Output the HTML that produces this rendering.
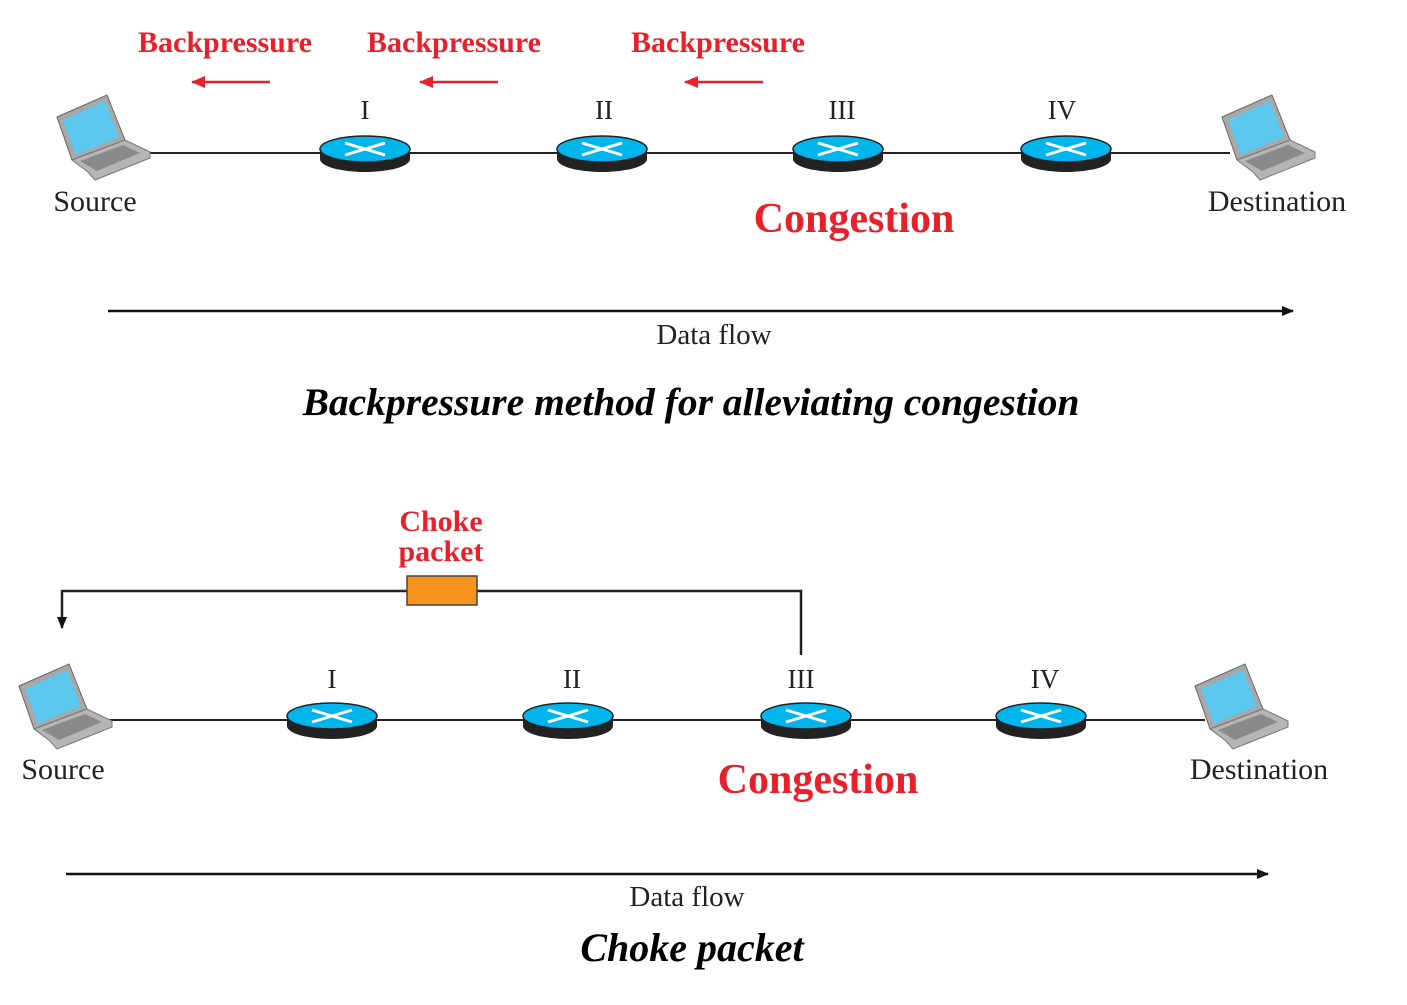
<!DOCTYPE html>
<html><head><style>body{margin:0;background:#fff}</style></head><body>
<svg width="1407" height="1000" xmlns="http://www.w3.org/2000/svg" font-family="Liberation Serif, serif">
<defs>
<g id="lap">
<polygon points="2,24 52,2 70,47 17,67" fill="#a8a8a8" stroke="#666"/>
<polygon points="8,27 50,8 64,44 21,62" fill="#5cc8f0"/>
<polygon points="17,67 70,47 95,59 95,65 40,87 33,79" fill="#b5b5b5" stroke="#777"/>
<polygon points="25,68 68,52 85,60 42,78" fill="#8a8a8a"/>
</g>
<g id="rt">
<ellipse cx="0" cy="6" rx="45" ry="13" fill="#222"/>
<rect x="-45" y="-4" width="90" height="10" fill="#222"/>
<ellipse cx="0" cy="-4" rx="45" ry="13" fill="#00b4ec" stroke="#222" stroke-width="1.5"/>
<path d="M-20,-10 L20,2 M-20,2 L20,-10" stroke="#fff" stroke-width="3"/>
</g>
<marker id="ab" markerWidth="12" markerHeight="10" refX="11" refY="5" orient="auto" markerUnits="userSpaceOnUse"><path d="M0,0 L12,5 L0,10 z" fill="#111"/></marker>
<marker id="ar" markerWidth="14" markerHeight="12" refX="13" refY="6" orient="auto" markerUnits="userSpaceOnUse"><path d="M0,0 L14,6 L0,12 z" fill="#e8202a"/></marker>
</defs>
<!-- top -->
<line x1="140" y1="153" x2="1230" y2="153" stroke="#222" stroke-width="2"/>
<use href="#lap" x="55" y="93"/>
<use href="#lap" x="1220" y="93"/>
<use href="#rt" x="365" y="153"/><use href="#rt" x="602" y="153"/><use href="#rt" x="838" y="153"/><use href="#rt" x="1066" y="153"/>
<g font-size="27" text-anchor="middle" fill="#222">
<text x="365" y="119">I</text><text x="604" y="119">II</text><text x="842" y="119">III</text><text x="1062" y="119">IV</text>
<text x="95" y="211" font-size="30">Source</text><text x="1277" y="211" font-size="30">Destination</text>
<text x="714" y="344" font-size="29">Data flow</text>
</g>
<g font-size="30" font-weight="bold" fill="#e8202a" text-anchor="middle">
<text x="225" y="52">Backpressure</text><text x="454" y="52">Backpressure</text><text x="718" y="52">Backpressure</text>
<text x="854" y="232" font-size="42">Congestion</text>
</g>
<g stroke="#e8202a" stroke-width="2.5">
<line x1="270" y1="82" x2="192" y2="82" marker-end="url(#ar)"/>
<line x1="498" y1="82" x2="420" y2="82" marker-end="url(#ar)"/>
<line x1="763" y1="82" x2="685" y2="82" marker-end="url(#ar)"/>
</g>
<line x1="108" y1="311" x2="1293" y2="311" stroke="#111" stroke-width="2.5" marker-end="url(#ab)"/>
<text x="691" y="415" font-size="39.5" font-style="italic" font-weight="bold" text-anchor="middle">Backpressure method for alleviating congestion</text>
<!-- bottom -->
<path d="M801,655 V591 H62 V628" fill="none" stroke="#222" stroke-width="2.5" marker-end="url(#ab)"/>
<rect x="407" y="576" width="70" height="29" fill="#f7941d" stroke="#444" stroke-width="1.5"/>
<line x1="100" y1="720" x2="1205" y2="720" stroke="#222" stroke-width="2"/>
<use href="#lap" x="17" y="662"/>
<use href="#lap" x="1193" y="662"/>
<use href="#rt" x="332" y="720"/><use href="#rt" x="568" y="720"/><use href="#rt" x="806" y="720"/><use href="#rt" x="1041" y="720"/>
<g font-size="27" text-anchor="middle" fill="#222">
<text x="332" y="688">I</text><text x="572" y="688">II</text><text x="801" y="688">III</text><text x="1045" y="688">IV</text>
<text x="63" y="779" font-size="30">Source</text><text x="1259" y="779" font-size="30">Destination</text>
<text x="687" y="906" font-size="29">Data flow</text>
</g>
<g font-size="30" font-weight="bold" fill="#e8202a" text-anchor="middle">
<text x="441" y="531">Choke</text><text x="441" y="561">packet</text>
<text x="818" y="793" font-size="42">Congestion</text>
</g>
<line x1="66" y1="874" x2="1268" y2="874" stroke="#111" stroke-width="2.5" marker-end="url(#ab)"/>
<text x="692" y="961" font-size="40" font-style="italic" font-weight="bold" text-anchor="middle">Choke packet</text>
</svg>
</body></html>
